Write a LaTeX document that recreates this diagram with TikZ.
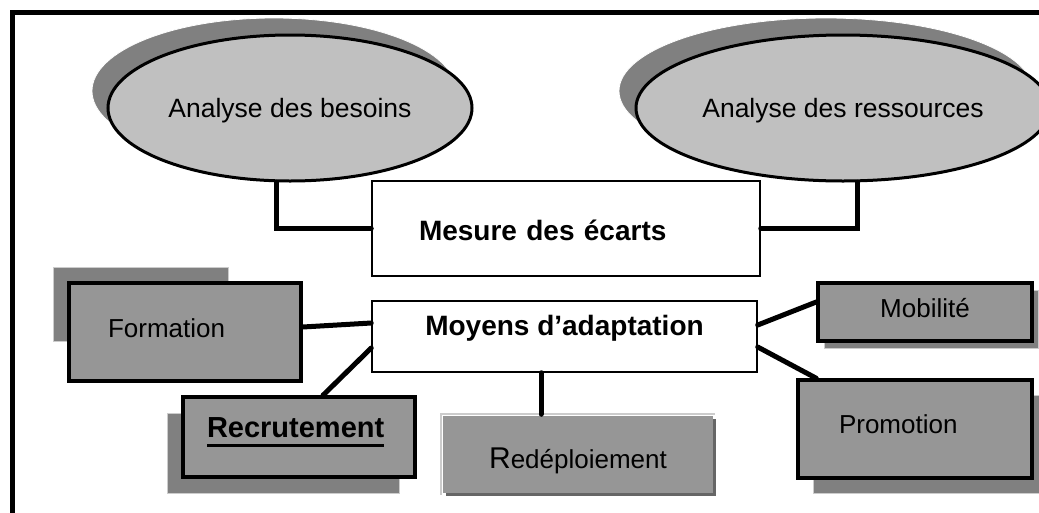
\documentclass[tikz,border=0pt]{standalone}
\usepackage{fontspec}
\setmainfont{Liberation Sans}
\usetikzlibrary{shapes.geometric, shadows}

\definecolor{bubblegrey}{HTML}{C0C0C0}
\definecolor{shadowgrey}{HTML}{808080}
\definecolor{boxgrey}{HTML}{969696}

\newcommand{\ulbold}[1]{\setbox0\hbox{#1}\rlap{\rule[-9.5pt]{\wd0}{3pt}}\box0}

\begin{document}
\begin{tikzpicture}[x=1pt, y=-1pt,
            bubble/.style={ellipse, draw, line width=3pt, fill=bubblegrey, inner sep=0pt, minimum height=146pt, text height=18pt, text depth=0pt, font=\fontsize{26.5}{30}\selectfont},
            bubbleshade/.style={ellipse, draw=white, line width=0.8pt, fill=shadowgrey, inner sep=0pt, minimum height=146pt},
            whitebox/.style={draw, line width=1.5pt, fill=white, inner sep=0pt, font=\bfseries\fontsize{28}{32}\selectfont},
            greybox/.style={draw, line width=3.5pt, fill=boxgrey, inner ysep=0pt, font=\fontsize{26}{30}\selectfont},
            boxshade/.style={draw=white!80!black, line width=1pt, fill=shadowgrey, inner sep=0pt},
            link/.style={line width=5pt, line cap=round}
        ]

            \clip (0,0) rectangle (1039,512);

            % Frame
            \draw[line width=5pt] (12.5,530) -- (12.5,12.5) -- (1060,12.5);

            % Shadows
            \node[bubbleshade, minimum width=364pt] (needsh) at (274,91) {};
            \node[bubbleshade, minimum width=414pt] (ressh) at (826,91) {};
            \node[boxshade, minimum width=175pt, minimum height=74pt] (formsh) at (140.5,304) {};
            \node[boxshade, minimum width=232pt, minimum height=80pt] (recrsh) at (283,453) {};
            \node[boxshade, minimum width=214pt, minimum height=58pt] (mobish) at (931,319) {};
            \node[boxshade, minimum width=234pt, minimum height=98pt] (promsh) at (930,444) {};

            % Analyses
            \node[bubble, minimum width=364pt] (need) at (290,108) {Analyse des besoins};
            \node[bubble, minimum width=414pt] (res) at (843,108) {Analyse des ressources};

            % Central boxes
            \node[whitebox, minimum width=388pt, minimum height=95pt, inner xsep=47pt, text width=294pt, align=left, text height=23pt, text depth=0pt] (gap) at (566,228.5) {Mesure des écarts};
            \node[whitebox, minimum width=385pt, minimum height=71pt, text height=20pt, text depth=23pt] (means) at (564.5,336.5) {Moyens d’adaptation};

            % Adaptation means
            \node[greybox, minimum width=232pt, minimum height=98pt, inner xsep=39pt, text width=154pt, align=left, text height=19pt, text depth=9pt] (form) at (185,332) {Formation};
            \node[greybox, minimum width=232pt, minimum height=80pt, inner xsep=24pt, text width=184pt, align=left, text height=20pt, text depth=20pt, font=\bfseries\fontsize{29}{32}\selectfont] (recr) at (299,437) {\ulbold{Recrutement}};
            \node[greybox, draw=none, minimum width=270pt, minimum height=77pt, text height=27pt, text depth=0pt, drop shadow={shadow xshift=3pt, shadow yshift=-3pt, fill=black!60, opacity=1}] (redep) at (578,454.5) {{\fontsize{30}{30}\selectfont R}edéploiement};
            \draw[white!80!black, line width=2pt] (redep.south west) |- (redep.north east);
            \node[greybox, minimum width=214pt, minimum height=58pt, text height=19pt, text depth=9pt] (mobi) at (925,312) {Mobilité};
            \node[greybox, minimum width=234pt, minimum height=98pt, inner xsep=41pt, text width=152pt, align=left, text height=19pt, text depth=11pt] (prom) at (915,429) {Promotion};

            % Links
            \draw[link] (need.260) |- (gap.west);
            \draw[link] (res.281) |- (gap.east);
            \draw[link] ([yshift=5pt]form.east) -- ([yshift=13.5pt]means.west);
            \draw[link] ([xshift=24pt]recr.north) -- ([yshift=-11.5pt]means.west);
            \draw[link] ([xshift=-23.5pt]means.south) coordinate (m1) -- (m1 |- redep.north);
            \draw[link] ([yshift=11.5pt]means.east) -- ([yshift=10pt]mobi.west);
            \draw[link] ([yshift=-10.5pt]means.east) -- ([xshift=20pt]prom.north west);

        \end{tikzpicture}
\end{document}
